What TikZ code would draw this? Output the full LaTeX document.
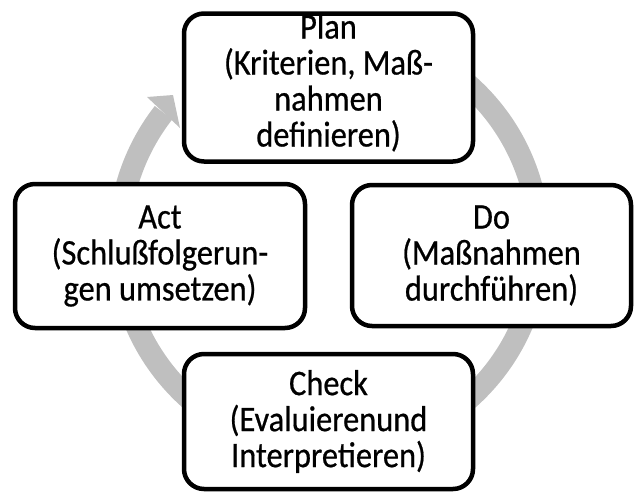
\documentclass[tikz,border=0pt]{standalone}
\usepackage{fontspec}
\setmainfont[FakeStretch=0.9,FakeBold=0.6]{Carlito}
\definecolor{bandgray}{RGB}{191,191,191}
\begin{document}
\begin{tikzpicture}[x=1pt,y=-1pt,
  cyclebox/.style={draw=black, fill=white, line width=4.5pt, rounded corners=20pt,
    inner sep=0pt, align=center, font=\fontsize{36}{36}\selectfont},
  band/.style={draw=bandgray, line width=22pt}]
\useasboundingbox (0,0) rectangle (635,493);
% cycle band
\draw[band] (329,242) ++(200:210 and -210) arc[start angle=200, end angle=142, x radius=210, y radius=-210];
\draw[band] (329,242) ++(75:210 and -210) arc[start angle=75, end angle=10, x radius=210, y radius=-210];
\draw[band] (329,242) ++(-15:210 and -210) arc[start angle=-15, end angle=-60, x radius=210, y radius=-210];
\draw[band] (329,242) ++(-120:210 and -210) arc[start angle=-120, end angle=-165, x radius=210, y radius=-210];
\fill[bandgray] (147,97) coordinate (b1) -- (173,95) coordinate (tip) -- (180,128) coordinate (b2) -- cycle;
% boxes
\node[cyclebox, minimum width=289pt, minimum height=145pt] (plan) at (328.5,87.5)
  {Plan\\(Kriterien, Maß-\\nahmen\\definieren)\rule[-15pt]{0pt}{15pt}};
\node[cyclebox, minimum width=290pt, minimum height=144pt] (act) at (160,256)
  {Act\\(Schlußfolgerun-\\gen umsetzen)};
\node[cyclebox, minimum width=279pt, minimum height=141pt] (do) at (491.5,255.5)
  {Do\\(Maßnahmen\\durchführen)};
\node[cyclebox, minimum width=289pt, minimum height=135pt] (check) at (328.5,421.5)
  {Check\\(Evaluierenund\\Interpretieren)};
\end{tikzpicture}
\end{document}
